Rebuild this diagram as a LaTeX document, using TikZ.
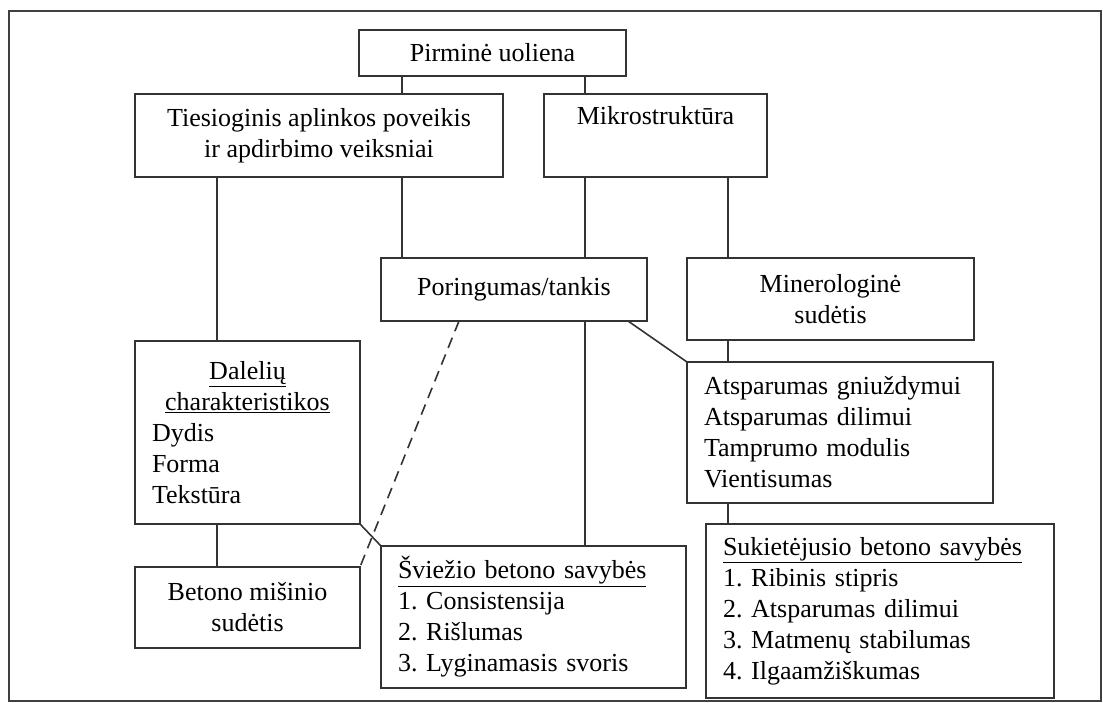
\documentclass[tikz,border=0pt]{standalone}
\usepackage{fontspec}
\setmainfont{Liberation Serif}
\usepackage{tikz}
\frenchspacing
\tikzset{
  box/.style={draw=black!80, line width=1.6pt, outer sep=0pt, anchor=north west,
    align=center, inner sep=0pt},
  listbox/.style={box, align=left, inner xsep=17pt},
  conn/.style={black!80, line width=1.6pt},
}

\begin{document}
\begin{tikzpicture}[x=1pt,y=-1pt,font=\fontsize{26}{31}\selectfont]
  \useasboundingbox (0,0) rectangle (1103,702);
  \draw[black!75,line width=2pt] (9,11) rectangle (1101,701);

  % boxes
  \node[box,minimum width=267,minimum height=46] (pirm) at (359,30) {Pirminė uoliena};
  \node[box,minimum width=368,minimum height=83] (tie) at (135,94)
    {Tiesioginis aplinkos poveikis\\ir apdirbimo veiksniai};
  \node[box,minimum width=223,minimum height=83] (mikro) at (544,94)
    {Mikrostruktūra\\ \strut};
  \node[box,minimum width=266,minimum height=63] (por) at (381,258) {Poringumas/tankis};
  \node[box,minimum width=287,minimum height=82] (miner) at (687,258)
    {Minerologinė\\sudėtis};
  \node[listbox,text width=191,minimum height=183] (dal) at (135,341)
    {{\centering\underline{Dalelių}\\\underline{charakteristikos}\par}
     Dydis\\Forma\\Tekstūra};
  \node[box,minimum width=225,minimum height=81] (bet) at (135,567)
    {Betono mišinio\\sudėtis};
  \node[listbox,text width=271,minimum height=142] (svz) at (381,546)
    {\underline{Šviežio betono savybės}\\1. Consistensija\\2. Rišlumas\\3. Lyginamasis svoris};
  \node[listbox,text width=272,minimum height=141] (ats) at (687,362)
    {Atsparumas gniuždymui\\Atsparumas dilimui\\Tamprumo modulis\\Vientisumas};
  \node[listbox,text width=314,minimum height=174] (suk) at (706,524)
    {\underline{Sukietėjusio betono savybės}\\1. Ribinis stipris\\2. Atsparumas dilimui\\
     3. Matmenų stabilumas\\4. Ilgaamžiškumas};

  % connectors
  \draw[conn] ([xshift=43]pirm.south west) -- ([xshift=267]tie.north west);
  \draw[conn] ([xshift=-41]pirm.south east) -- ([xshift=41]mikro.north west);
  \draw[conn] ([xshift=82]tie.south west) -- ([xshift=82]dal.north west);
  \draw[conn] ([xshift=267]tie.south west) -- ([xshift=21]por.north west);
  \draw[conn] ([xshift=41]mikro.south west) -- ([xshift=204]por.north west);
  \draw[conn] ([xshift=184]mikro.south west) -- ([xshift=41]miner.north west);
  \draw[conn] ([xshift=82]dal.south west) -- ([xshift=82]bet.north west);
  \draw[conn] ([xshift=204]por.south west) -- ([xshift=204]svz.north west);
  \draw[conn] ([xshift=-19]por.south east) -- (ats.north west);
  \draw[conn] (dal.south east) -- (svz.north west);
  \draw[conn,dash pattern=on 11pt off 7pt] ([xshift=78]por.south west) -- (bet.north east);
  \draw[conn] ([xshift=41]miner.south west) -- ([xshift=41]ats.north west);
  \draw[conn] ([xshift=41]ats.south west) -- ([xshift=22]suk.north west);
\end{tikzpicture}
\end{document}
